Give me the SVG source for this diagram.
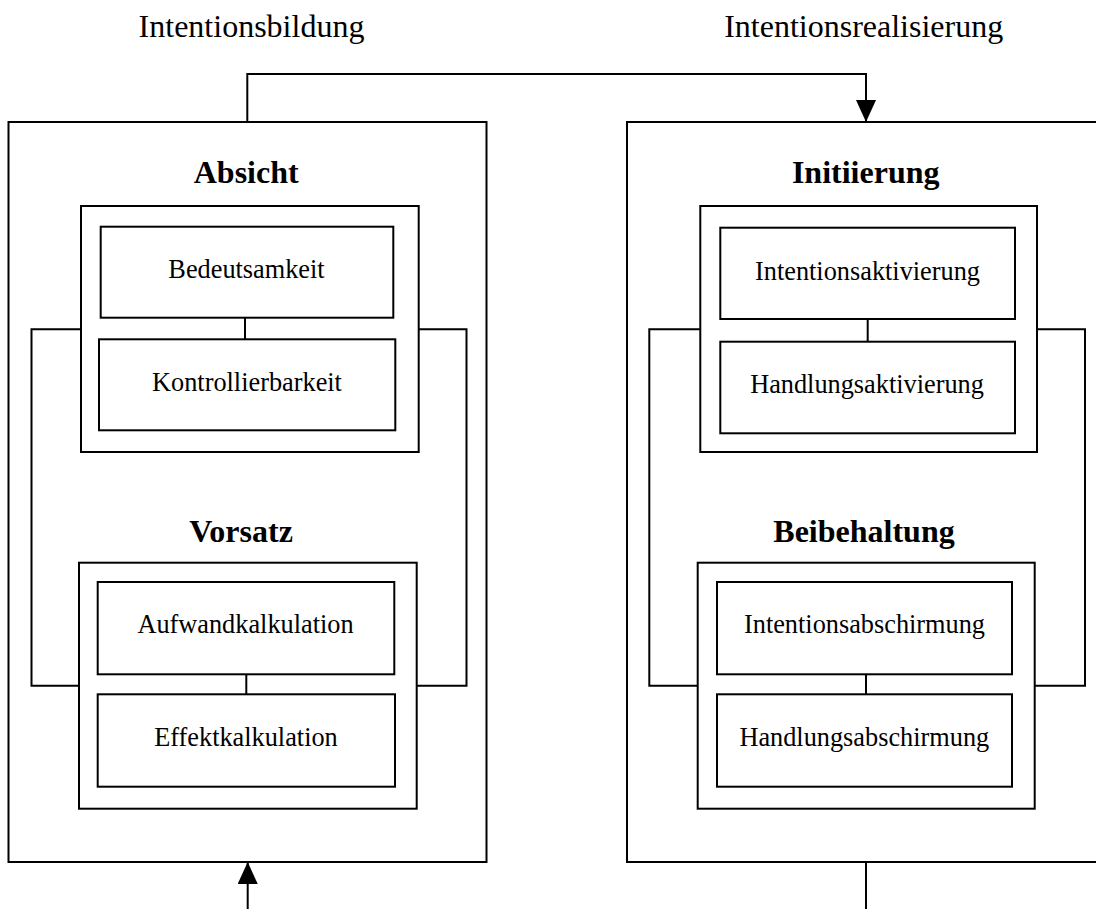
<svg xmlns="http://www.w3.org/2000/svg" width="1096" height="909" viewBox="0 0 1096 909">
  <style>
    .box { fill: none; stroke: #000; stroke-width: 2; }
    .line { fill: none; stroke: #000; stroke-width: 2; }
    .phase { font-family: "Liberation Serif", "Times New Roman", serif; font-size: 32px; fill: #000; text-anchor: middle; }
    .head { font-family: "Liberation Serif", "Times New Roman", serif; font-size: 32px; font-weight: bold; fill: #000; text-anchor: middle; }
    .item { font-family: "Liberation Serif", "Times New Roman", serif; font-size: 26.3px; fill: #000; text-anchor: middle; }
  </style>
  <defs>
    <marker id="arrow" viewBox="0 0 22 20" refX="22" refY="10" markerWidth="22" markerHeight="20" markerUnits="userSpaceOnUse" orient="auto">
      <path d="M0,0 L22,10 L0,20 z" fill="#000"/>
    </marker>
  </defs>
  <rect width="1096" height="909" fill="#fff"/>

  <!-- phase labels -->
  <text class="phase" x="251.5" y="36.7">Intentionsbildung</text>
  <text class="phase" x="863.7" y="36.7">Intentionsrealisierung</text>

  <!-- left phase: intention formation -->
  <g id="intentionsbildung">
    <rect class="box" x="8.5" y="122" width="478" height="740"/>
  </g>
  <g id="absicht">
    <text class="head" x="246.2" y="183.3">Absicht</text>
    <rect class="box" x="81" y="206" width="337.7" height="246"/>
  </g>
  <g id="bedeutsamkeit">
    <rect class="box" x="100.7" y="226.7" width="292.6" height="91"/>
    <text class="item" x="246.5" y="278.3">Bedeutsamkeit</text>
  </g>
  <g id="kontrollierbarkeit">
    <rect class="box" x="99" y="339.3" width="296.3" height="91"/>
    <text class="item" x="247" y="391">Kontrollierbarkeit</text>
  </g>
  <g id="vorsatz">
    <text class="head" x="241" y="541.7">Vorsatz</text>
    <rect class="box" x="79" y="562.7" width="337.7" height="246"/>
  </g>
  <g id="aufwandkalkulation">
    <rect class="box" x="97.7" y="582" width="296.6" height="92.3"/>
    <text class="item" x="245.5" y="633.3">Aufwandkalkulation</text>
  </g>
  <g id="effektkalkulation">
    <rect class="box" x="97.7" y="694.3" width="297.3" height="92.4"/>
    <text class="item" x="246" y="745.7">Effektkalkulation</text>
  </g>

  <!-- right phase: intention realisation -->
  <g id="intentionsrealisierung">
    <rect class="box" x="627" y="122" width="480" height="740"/>
  </g>
  <g id="initiierung">
    <text class="head" x="865.7" y="183.3">Initiierung</text>
    <rect class="box" x="700.3" y="206" width="336.7" height="246"/>
  </g>
  <g id="intentionsaktivierung">
    <rect class="box" x="720.3" y="227.7" width="294.7" height="91.3"/>
    <text class="item" x="867.5" y="280">Intentionsaktivierung</text>
  </g>
  <g id="handlungsaktivierung">
    <rect class="box" x="720.3" y="341.7" width="294.7" height="91.6"/>
    <text class="item" x="867" y="393">Handlungsaktivierung</text>
  </g>
  <g id="beibehaltung">
    <text class="head" x="864" y="541.7">Beibehaltung</text>
    <rect class="box" x="697.7" y="562.7" width="337" height="246"/>
  </g>
  <g id="intentionsabschirmung">
    <rect class="box" x="717" y="582" width="295" height="92.3"/>
    <text class="item" x="864.5" y="633.3">Intentionsabschirmung</text>
  </g>
  <g id="handlungsabschirmung">
    <rect class="box" x="717" y="694.3" width="295" height="92.4"/>
    <text class="item" x="864.3" y="745.7">Handlungsabschirmung</text>
  </g>

  <!-- connectors -->
  <g id="connectors">
    <path class="line" d="M247.3,122 V74 H866 V122" marker-end="url(#arrow)"/>
    <path class="line" d="M247.7,909 V862" marker-end="url(#arrow)"/>
    <path class="line" d="M866,862 V909"/>

    <path class="line" d="M245,317.7 V339.3"/>
    <path class="line" d="M246.3,674.3 V694.3"/>
    <path class="line" d="M867.7,319 V341.7"/>
    <path class="line" d="M866,674.3 V694.3"/>

    <path class="line" d="M81,329.3 H31.5 V685.7 H79"/>
    <path class="line" d="M418.7,329.3 H466.5 V685.7 H416.7"/>
    <path class="line" d="M700.3,329.3 H649.3 V685.7 H697.7"/>
    <path class="line" d="M1037,329.3 H1085 V685.7 H1034.7"/>
  </g>
</svg>
